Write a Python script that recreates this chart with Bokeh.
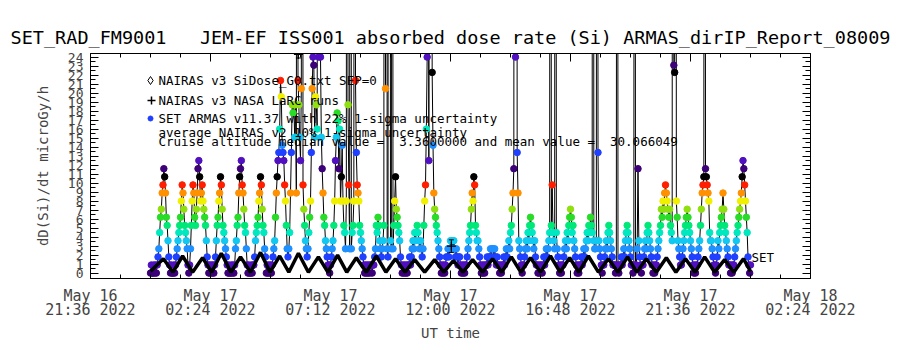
import math
from bokeh.plotting import figure
from bokeh.models import LinearAxis, FixedTicker, Label, Range1d, ColumnDataSource, Grid
from bokeh.embed import file_html
from bokeh.resources import INLINE

FONT = "DejaVu Sans Mono"
NB = "\u00a0"

# ---------------- data ----------------
# x axis: minutes since 2022-05-16 21:36 UT
x_tick_minutes = [0, 288, 576, 864, 1152, 1440, 1728]
x_tick_labels = ["May 16\n21:36 2022", "May 17\n02:24 2022", "May 17\n07:12 2022",
                 "May 17\n12:00 2022", "May 17\n16:48 2022", "May 17\n21:36 2022",
                 "May 18\n02:24 2022"]
x_minor_minutes = [0, 72, 144, 216, 288, 360, 432, 504, 576, 648, 720, 792, 864, 936,
                   1008, 1080, 1152, 1224, 1296, 1368, 1440, 1512, 1584, 1656, 1728]
y_ticks = [0, 1, 2, 3, 4, 5, 6, 7, 8, 9, 10, 11, 12, 13, 14, 15, 16, 17, 18, 19, 20,
           21, 22, 23, 24]
y_minor_ticks = [0.5, 1.5, 2.5, 3.5, 4.5, 5.5, 6.5, 7.5, 8.5, 9.5, 10.5, 11.5, 12.5, 13.5,
                 14.5, 15.5, 16.5, 17.5, 18.5, 19.5, 20.5, 21.5, 22.5, 23.5]

# SET ARMAS dose rate (microGy/h), one sample every 2 minutes from 2022-05-17 00:00 UT
armas_start_minute = 144
armas_step_minutes = 2
armas_rows = [
    [0.0, 0.9, 0.0, 0.0, 0.9, 0.0, 0.9, 0.0, 0.9, 1.8, 2.7, 4.5, 6.2, 7.1, 8.9, 9.8, 11.6, 10.7, 8.9, 6.2, 5.3, 3.6, 1.8],
    [0.9, 0.0, 0.9, 0.0, 0.0, 0.9, 0.0, 0.9, 1.8, 2.7, 3.6, 4.5, 5.3, 6.2, 8.0, 9.8, 8.9, 7.1, 5.3, 4.5, 3.6, 2.7, 0.9],
    [0.0, 0.9, 2.7, 5.3, 8.0, 9.8, 8.9, 6.2, 5.3, 7.1, 8.9, 11.6, 12.5, 10.7, 8.0, 8.9, 9.8, 8.0, 7.1, 6.2, 5.3, 3.6, 1.8, 0.9],
    [0.0, 0.9, 0.0, 0.9, 0.0, 0.9, 0.0, 0.9, 1.8, 3.6, 5.3, 6.2, 8.0, 8.9, 10.7, 9.8, 7.1, 5.3, 4.5, 3.6, 2.7, 1.8, 0.9],
    [0.0, 0.9, 0.0, 0.0, 0.9, 0.0, 0.9, 0.0, 0.9, 2.7, 3.6, 5.3, 6.2, 8.9, 10.7, 11.6, 12.5, 9.8, 8.9, 7.1, 5.3, 4.5, 2.7],
    [0.9, 0.0, 0.9, 0.0, 0.0, 0.9, 0.0, 0.9, 0.9, 1.8, 3.6, 4.5, 5.3, 6.2, 8.0, 8.9, 10.7, 9.8, 7.1, 5.3, 4.5, 2.7, 1.8],
    [0.0, 0.9, 0.0, 0.9, 0.0, 0.9, 0.0, 0.9, 1.8, 2.7, 3.6, 6.2, 8.9, 10.7, 12.5, 13.4, 16.0, 21.4, 19.6, 14.2, 13.4, 12.5, 9.8],
    [8.0, 5.3, 2.7, 1.8, 2.7, 4.5, 8.9, 13.4, 18.7, 17.8, 18.7, 15.1, 18.7, 8.9, 150.0, 21.4, 18.7, 15.1, 12.5, 20.5, 220.0, 9.8, 7.1, 5.3],
    [3.6, 2.7, 1.8, 2.7, 4.5, 6.2, 8.0, 13.4, 20.5, 24.0, 23.1, 15.1, 19.6, 18.7, 16.0, 100.0, 24.0, 90.0, 24.0, 15.1, 11.6, 8.9, 6.2],
    [5.3, 3.6, 2.7, 1.8, 0.9, 0.9, 0.0, 0.9, 1.8, 2.7, 3.6, 5.3, 8.0, 12.5, 15.1, 17.8, 16.9, 11.6, 16.0, 8.0, 10.7, 14.2, 8.0],
    [5.3, 4.5, 2.7, 8.0, 250.0, 18.7, 9.8, 2.7, 300.0, 2.7, 4.5, 5.3, 8.0, 180.0, 21.4, 13.4, 9.8, 8.9, 8.0, 5.3, 4.5, 3.6, 2.7],
    [1.8, 0.9, 0.0, 0.9, 0.0, 0.9, 0.0, 0.9, 0.0, 0.9, 0.9, 0.0, 0.9, 0.9, 1.8, 2.7, 5.3, 4.5, 6.2, 5.3, 3.6, 2.7, 1.8],
    [2.7, 3.6, 5.3, 160.0, 20.5, 240.0, 2.7, 1.8, 200.0, 150.0, 3.6, 2.7, 190.0, 2.7, 5.3, 8.0, 10.7, 7.1, 6.2, 5.3, 4.5, 3.6, 1.8, 0.9],
    [0.0, 0.9, 0.0, 0.9, 0.0, 0.9, 0.0, 0.9, 0.9, 1.8, 0.9, 1.8, 2.7, 3.6, 2.7, 4.5, 3.6, 4.5, 5.3, 4.5, 3.6, 2.7, 3.6],
    [2.7, 1.8, 2.7, 5.3, 8.0, 9.8, 16.0, 24.0, 300.0, 12.5, 200.0, 350.0, 150.0, 22.3, 14.2, 8.9, 7.1, 6.2, 5.3, 4.5, 3.6, 2.7, 1.8],
    [0.9, 0.0, 0.9, 0.0, 0.9, 0.0, 0.9, 1.8, 1.8, 2.7, 1.8, 2.7, 3.6, 2.7, 3.6, 2.7, 3.6, 2.7, 1.8, 2.7, 1.8, 0.9, 1.8],
    [1.8, 0.9, 0.0, 0.9, 0.0, 0.9, 0.0, 0.9, 0.9, 1.8, 2.7, 3.6, 4.5, 5.3, 7.1, 8.9, 8.0, 10.7, 9.8, 5.3, 4.5, 3.6, 3.6],
    [2.7, 1.8, 0.9, 0.0, 0.9, 0.0, 0.9, 0.0, 0.9, 0.9, 1.8, 0.9, 1.8, 1.8, 2.7, 1.8, 2.7, 2.7, 1.8, 2.7, 1.8, 0.9, 1.8, 0.9],
    [0.9, 0.0, 0.9, 0.0, 0.9, 0.9, 1.8, 0.9, 1.8, 2.7, 1.8, 2.7, 3.6, 2.7, 4.5, 5.3, 7.1, 8.9, 11.6, 260.0, 24.0, 180.0, 13.4],
    [8.9, 3.6, 2.7, 1.8, 0.9, 0.0, 0.9, 0.9, 1.8, 2.7, 3.6, 2.7, 4.5, 3.6, 5.3, 6.2, 5.3, 4.5, 3.6, 2.7, 3.6, 1.8, 0.9],
    [0.9, 0.0, 0.9, 0.0, 0.9, 0.9, 0.0, 0.9, 1.8, 0.9, 1.8, 2.7, 1.8, 2.7, 3.6, 4.5, 220.0, 5.3, 9.8, 4.5, 3.6, 2.7, 210.0],
    [4.5, 2.7, 1.8, 0.9, 0.0, 0.9, 0.0, 0.9, 0.9, 1.8, 2.7, 3.6, 2.7, 4.5, 3.6, 5.3, 6.2, 7.1, 6.2, 4.5, 5.3, 3.6, 2.7],
    [1.8, 0.9, 0.0, 0.9, 0.0, 0.9, 0.9, 1.8, 0.9, 1.8, 2.7, 1.8, 2.7, 3.6, 4.5, 3.6, 5.3, 4.5, 6.2, 5.3, 4.5, 260.0, 3.6, 2.7],
    [2.7, 3.6, 230.0, 13.4, 3.6, 2.7, 1.8, 0.9, 0.0, 0.9, 0.9, 1.8, 2.7, 3.6, 2.7, 4.5, 5.3, 4.5, 3.6, 2.7, 1.8, 0.9, 0.9],
    [0.9, 0.0, 0.9, 170.0, 0.9, 0.0, 0.9, 0.9, 1.8, 0.9, 1.8, 2.7, 1.8, 3.6, 4.5, 5.3, 4.5, 3.6, 2.7, 1.8, 0.9, 0.9, 0.0],
    [0.9, 190.0, 0.9, 0.9, 2.7, 11.6, 3.6, 1.8, 0.9, 0.0, 0.9, 0.9, 1.8, 2.7, 3.6, 2.7, 4.5, 5.3, 4.5, 3.6, 2.7, 1.8, 0.9],
    [0.0, 0.9, 0.0, 0.9, 0.9, 1.8, 2.7, 3.6, 4.5, 5.3, 7.1, 6.2, 8.0, 7.1, 8.9, 9.8, 8.9, 8.0, 7.1, 6.2, 7.1, 5.3, 4.5],
    [3.6, 250.0, 23.1, 22.3, 300.0, 8.0, 6.2, 3.6, 2.7, 1.8, 0.9, 0.9, 1.8, 2.7, 3.6, 4.5, 5.3, 6.2, 7.1, 6.2, 5.3, 4.5, 3.6, 2.7],
    [1.8, 0.9, 0.0, 0.9, 0.0, 0.9, 0.9, 1.8, 2.7, 3.6, 5.3, 7.1, 8.9, 9.8, 10.7, 200.0, 11.6, 10.7, 9.8, 8.9, 8.0, 4.5, 3.6],
    [3.6, 2.7, 1.8, 0.9, 0.9, 0.0, 0.9, 1.8, 3.6, 2.7, 4.5, 5.3, 6.2, 7.1, 8.9, 7.1, 5.3, 4.5, 3.6, 2.7, 1.8, 0.9, 0.9],
    [0.0, 0.9, 0.0, 0.9, 0.9, 1.8, 2.7, 3.6, 4.5, 5.3, 6.2, 7.1, 8.0, 8.9, 10.7, 12.5, 11.6, 9.8, 8.0, 6.2, 4.5, 1.8, 0.9],
    [0.0, 0.9],
]

# NAIRAS v3 SiDose_G0 (SEP=0): turning points of the orbital modulation
nairas_minutes = [144, 175, 198, 221, 245, 269, 291, 314, 337, 360, 384, 408, 431, 454, 476, 499,
                  523, 547, 570, 593, 615, 638, 662, 686, 709, 732, 755, 778, 802, 826, 848, 871,
                  894, 917, 941, 965, 987, 1010, 1033, 1056, 1080, 1104, 1127, 1150, 1172, 1195,
                  1219, 1243, 1266, 1289, 1311, 1334, 1358, 1382, 1405, 1428, 1451, 1474, 1498,
                  1522, 1544, 1567, 1584]
nairas_dose = [0.2, 1.6, 0.1, 1.9, 0.1, 1.7, 0.1, 2.2, 0.1, 1.8, 0.1, 2.3, 0.1, 1.9, 0.1, 2.2,
               0.1, 1.8, 0.1, 2.0, 0.1, 1.7, 0.1, 1.9, 0.1, 1.6, 0.1, 1.5, 0.1, 1.5, 0.1, 1.4,
               0.1, 1.5, 0.1, 1.6, 0.1, 1.8, 0.1, 1.7, 0.1, 1.9, 0.1, 1.7, 0.1, 1.9, 0.1, 1.6,
               0.1, 1.8, 0.1, 1.6, 0.1, 1.7, 0.1, 1.6, 0.1, 1.8, 0.1, 1.5, 0.1, 1.6, 0.2]

# NAIRAS v3 NASA LaRC runs (with 10% uncertainty bars)
larc_minutes = [499, 866]
larc_dose = [24.3, 3.0]
larc_err = [0.4, 0.7]

# ---------------- build ----------------
LEVEL = 0.89
palette13 = ["#3c0078", "#5010c0", "#2040ff", "#1e90ff", "#10c8f0", "#00e8c0", "#00e878",
             "#28dc28", "#90e010", "#f0f000", "#ff9000", "#ff1e00", "#000000"]

armas_values = [v for row in armas_rows for v in row]
armas_minutes = [armas_start_minute + armas_step_minutes * i for i in range(len(armas_values))]
armas_colors = [palette13[int(round(v / LEVEL)) % 13] for v in armas_values]

X0, X1 = 0, 1728
Y0, Y1 = -0.6, 24.4
L, R, T, B = 90, 810, 53, 278


def xm(px):
    return X0 + (px - L) / (R - L) * (X1 - X0)


def yv(py):
    return Y1 - (py - T) / (B - T) * (Y1 - Y0)


p = figure(width=900, height=350, x_range=Range1d(X0, X1), y_range=Range1d(Y0, Y1),
           output_backend="svg", toolbar_location=None,
           x_axis_location=None, y_axis_location=None,
           min_border_left=L, min_border_right=900 - R, min_border_top=T,
           min_border_bottom=350 - B)
p.outline_line_color = None
p.background_fill_color = "white"
p.border_fill_color = "white"
for r in list(p.center):
    if isinstance(r, Grid):
        r.visible = False

p.title.text = ("SET_RAD_FM9001" + NB * 3 +
                "JEM-EF ISS001 absorbed dose rate (Si) ARMAS_dirIP_Report_08009")
p.title.align = "center"
p.title.text_font = FONT
p.title.text_font_size = "18.5px"
p.title.text_font_style = "normal"
p.title.text_color = "black"
p.title.standoff = 12

xt = FixedTicker(ticks=x_tick_minutes, minor_ticks=x_minor_minutes)
yt = FixedTicker(ticks=y_ticks, minor_ticks=y_minor_ticks)

xa = LinearAxis(ticker=xt, major_label_overrides=dict(zip(x_tick_minutes, x_tick_labels)),
                major_tick_in=8, major_tick_out=0, minor_tick_in=4, minor_tick_out=0,
                major_label_text_font=FONT, major_label_text_font_size="15px",
                major_label_text_line_height=0.78, major_label_standoff=8,
                axis_label="UT time", axis_label_text_font=FONT,
                axis_label_text_font_size="14px", axis_label_text_font_style="normal",
                axis_label_standoff=3,
                axis_line_color="black", major_tick_line_color="black",
                minor_tick_line_color="black")
p.add_layout(xa, "below")
xa2 = LinearAxis(ticker=xt, major_tick_in=8, major_tick_out=0, minor_tick_in=4, minor_tick_out=0,
                 major_label_text_alpha=0, major_label_text_font_size="0px",
                 major_label_standoff=0,
                 axis_line_color="black", major_tick_line_color="black",
                 minor_tick_line_color="black")
p.add_layout(xa2, "above")
ya = LinearAxis(ticker=yt, major_tick_in=8, major_tick_out=0, minor_tick_in=5, minor_tick_out=0,
                major_label_text_font=FONT, major_label_text_font_size="13px",
                major_label_standoff=7,
                axis_label="dD(Si)/dt microGy/h", axis_label_text_font=FONT,
                axis_label_text_font_size="14px", axis_label_text_font_style="normal",
                axis_label_standoff=14,
                axis_line_color="black", major_tick_line_color="black",
                minor_tick_line_color="black")
p.add_layout(ya, "left")
ya2 = LinearAxis(ticker=yt, major_tick_in=8, major_tick_out=0, minor_tick_in=5, minor_tick_out=0,
                 major_label_text_alpha=0, major_label_text_font_size="0px",
                 major_label_standoff=0,
                 axis_line_color="black", major_tick_line_color="black",
                 minor_tick_line_color="black")
p.add_layout(ya2, "right")

# ARMAS line and points
src = ColumnDataSource(dict(x=armas_minutes, y=armas_values, c=armas_colors))
p.line("x", "y", source=src, line_color="black", line_width=1)
p.scatter("x", "y", source=src, size=6.5, fill_color="c", line_color="c", marker="circle")

# NAIRAS curve
p.line(nairas_minutes, nairas_dose, line_color="black", line_width=3.5)

# LaRC points with capped uncertainty bars
lo = [d - e for d, e in zip(larc_dose, larc_err)]
hi = [d + e for d, e in zip(larc_dose, larc_err)]
cap = 6  # minutes half-width of the bar caps
p.scatter(larc_minutes, larc_dose, marker="cross", size=9, line_color="black", line_width=1.2)
p.segment(larc_minutes, lo, larc_minutes, hi, line_color="black")
p.segment([m - cap for m in larc_minutes], lo, [m + cap for m in larc_minutes], lo,
          line_color="black")
p.segment([m - cap for m in larc_minutes], hi, [m + cap for m in larc_minutes], hi,
          line_color="black")

# legend symbols
p.scatter([xm(150)], [yv(80)], marker="diamond", size=8, fill_color="white", line_color="black")
p.scatter([xm(151)], [yv(100)], marker="cross", size=8, line_color="black", line_width=1.5)
p.scatter([xm(150)], [yv(118)], marker="circle", size=5, fill_color="#2040ff", line_color="#2040ff")

legend_lines = [
    (80, "NAIRAS v3 SiDose_G0.txt SEP=0"),
    (100, "NAIRAS v3 NASA LaRC runs"),
    (118, "SET ARMAS v11.37 with 22% 1-sigma uncertainty"),
    (132, "average NAIRAS v2 10% 1-sigma uncertainty"),
    (141, "Cruise altitude median value =" + NB * 2 + "3.3600000 and mean value =" + NB * 2 + "30.066049"),
]
for py, txt in legend_lines:
    p.add_layout(Label(x=xm(158), y=yv(py), text=txt, text_font=FONT, text_font_size="12.5px",
                       text_align="left", text_baseline="middle", text_color="black"))

p.add_layout(Label(x=xm(751), y=yv(257), text="SET", text_font=FONT, text_font_size="12.5px",
                   text_align="left", text_baseline="middle", text_color="black"))

open("out.html", "w").write(file_html(p, INLINE))
